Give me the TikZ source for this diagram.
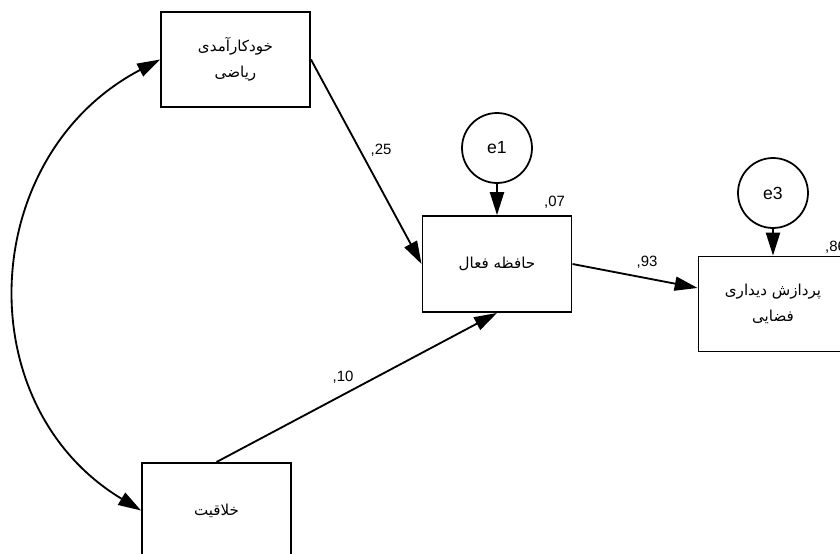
\documentclass[tikz,border=0pt]{standalone}
\usepackage{fontspec}
\setmainfont{Liberation Sans}
\newfontfamily\farsi[Script=Arabic]{DejaVu Sans}
\TeXXeTstate=1
\usetikzlibrary{arrows.meta}

\begin{document}
\begin{tikzpicture}[x=0.02cm,y=-0.02cm,
    latent/.style={draw,line width=1.1pt,minimum width=2.98cm,minimum height=1.9cm,
      align=center,font=\farsi\fontsize{8.6}{15}\selectfont},
    errterm/.style={draw,circle,line width=1pt,minimum size=1.4cm,inner sep=0pt,
      font=\fontsize{10}{12}\selectfont},
    regr/.style={line width=1.05pt,-{Triangle[length=13pt,width=8pt]}},
    corr/.style={line width=1.05pt,{Triangle[length=13pt,width=8pt]}-{Triangle[length=13pt,width=8pt]}},
    estimate/.style={font=\fontsize{8.5}{10}\selectfont,inner sep=1pt}]
  \useasboundingbox (0,0) rectangle (840,554);

  \node[latent] (selfeff) at (235.5,59.5) {\beginR خودکارآمدی\endR\\\beginR ریاضی\endR};
  \node[latent,minimum height=1.92cm] (wm) at (497,264) {\beginR حافظه فعال\endR};
  \node[latent] (vsp) at (773,304) {\beginR پردازش دیداری\endR\\\beginR فضایی\endR};
  \node[latent] (creat) at (216.5,510.5) {\beginR خلاقیت\endR};

  \node[errterm] (e1) at (497,148) {e1};
  \node[errterm] (e3) at (773,193) {e3};

  \draw[regr] (e1) -- (wm);
  \draw[regr] (e3) -- (vsp);
  \draw[regr] (selfeff.east) -- (wm.west);
  \draw[regr] (creat.north) -- (wm.south);
  \draw[regr] (wm.east) -- (vsp.168);
  \draw[corr] (selfeff.west) .. controls (-22,155) and (-34,405) .. (creat.west);

  \node[estimate] (p1) at (381,150) {,25};
  \node[estimate] (p2) at (343,377) {,10};
  \node[estimate] (p3) at (647,262) {,93};
  \node[estimate,anchor=east] (r1) at (567,202) {,07};
  \node[estimate,anchor=west] (r3) at (823,247) {,86};
\end{tikzpicture}
\end{document}
